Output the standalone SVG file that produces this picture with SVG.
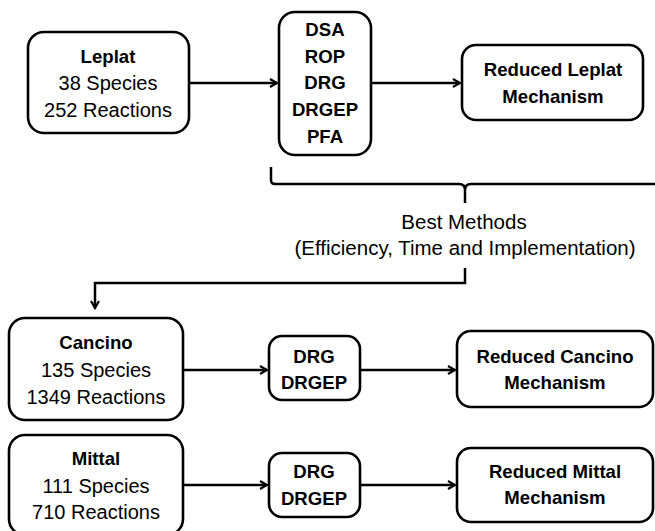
<svg xmlns="http://www.w3.org/2000/svg" width="655" height="531" viewBox="0 0 655 531">
<defs>
<style>
.box{fill:#fff;stroke:#000;stroke-width:2.6}
.t{font-family:"Liberation Sans",Arial,sans-serif;font-size:20px;fill:#000;text-anchor:middle}
.b{font-weight:bold;font-size:18.6px}
.m{font-size:20.5px}
.c{fill:none;stroke:#000;stroke-width:2.5}
</style>
<marker id="ah" markerWidth="10" markerHeight="10" refX="8" refY="5" orient="auto" markerUnits="userSpaceOnUse">
<path d="M1,1 L8,5 L1,9" fill="none" stroke="#000" stroke-width="2.2"/>
</marker>
</defs>
<rect width="655" height="531" fill="#fff"/>
<g id="connectors">
<path class="c" d="M190,83 H277" marker-end="url(#ah)"/>
<path class="c" d="M372,83 H460" marker-end="url(#ah)"/>
<path class="c" d="M271,167 V180 Q271,184 275,184 H459 Q465,184 465,190 V203 M465,190 Q465,184 471,184 H658"/>
<path class="c" d="M465,268 V283 H95 V308" marker-end="url(#ah)"/>
<path class="c" d="M183,370 H267" marker-end="url(#ah)"/>
<path class="c" d="M360,370 H455" marker-end="url(#ah)"/>
<path class="c" d="M183,485 H267" marker-end="url(#ah)"/>
<path class="c" d="M360,485 H455" marker-end="url(#ah)"/>
</g>
<g id="leplat">
<rect class="box" x="28" y="32" width="161" height="101" rx="16"/>
<text class="t b" x="108" y="63">Leplat</text>
<text class="t" x="108" y="90">38 Species</text>
<text class="t" x="108" y="117">252 Reactions</text>
</g>
<g id="methods">
<rect class="box" x="279" y="12" width="92" height="143" rx="16"/>
<text class="t b" x="325" y="36">DSA</text>
<text class="t b" x="325" y="63">ROP</text>
<text class="t b" x="325" y="89">DRG</text>
<text class="t b" x="325" y="116">DRGEP</text>
<text class="t b" x="325" y="143">PFA</text>
</g>
<g id="reduced-leplat">
<rect class="box" x="462" y="45" width="181" height="75" rx="14"/>
<text class="t b" x="553" y="76">Reduced Leplat</text>
<text class="t b" x="553" y="103">Mechanism</text>
</g>
<g id="best-methods">
<text class="t m" x="464" y="229">Best Methods</text>
<text class="t m" x="465" y="255">(Efficiency, Time and Implementation)</text>
</g>
<g id="cancino">
<rect class="box" x="9" y="318" width="174" height="102" rx="16"/>
<text class="t b" x="96" y="349">Cancino</text>
<text class="t" x="96" y="377">135 Species</text>
<text class="t" x="96" y="404">1349 Reactions</text>
</g>
<g id="drg-cancino">
<rect class="box" x="269" y="336" width="91" height="64" rx="13"/>
<text class="t b" x="314" y="363">DRG</text>
<text class="t b" x="314" y="389">DRGEP</text>
</g>
<g id="reduced-cancino">
<rect class="box" x="457" y="331" width="196" height="76" rx="14"/>
<text class="t b" x="555" y="363">Reduced Cancino</text>
<text class="t b" x="555" y="389">Mechanism</text>
</g>
<g id="mittal">
<rect class="box" x="9" y="435" width="174" height="100" rx="16"/>
<text class="t b" x="96" y="465">Mittal</text>
<text class="t" x="96" y="493">111 Species</text>
<text class="t" x="96" y="519">710 Reactions</text>
</g>
<g id="drg-mittal">
<rect class="box" x="269" y="453" width="91" height="64" rx="13"/>
<text class="t b" x="314" y="478">DRG</text>
<text class="t b" x="314" y="505">DRGEP</text>
</g>
<g id="reduced-mittal">
<rect class="box" x="457" y="448" width="196" height="74" rx="14"/>
<text class="t b" x="555" y="478">Reduced Mittal</text>
<text class="t b" x="555" y="504">Mechanism</text>
</g>
</svg>
